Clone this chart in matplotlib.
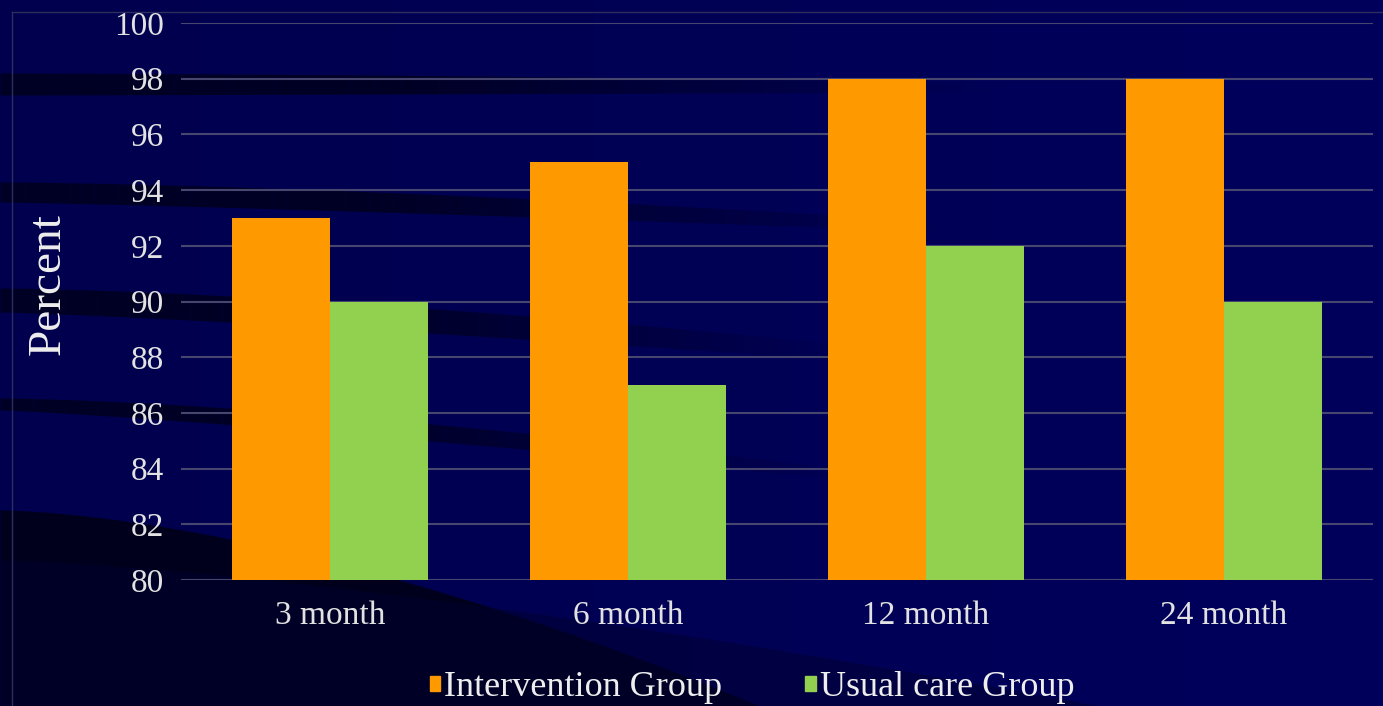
import numpy as np
import matplotlib.pyplot as plt
from matplotlib.colors import LinearSegmentedColormap
from matplotlib.patches import Patch

categories = ["3 month", "6 month", "12 month", "24 month"]
intervention = [93, 95, 98, 98]
usual_care = [90, 87, 92, 90]
series_names = ["Intervention Group", "Usual care Group"]
colors = ["#FF9900", "#92D050"]

W, H = 1383, 706
plt.rcParams['font.family'] = ['Liberation Serif', 'DejaVu Serif']

fig = plt.figure(figsize=(W / 100, H / 100), dpi=100)
fig.patch.set_facecolor("#000058")

# background decoration (pixel coordinates)
bg = fig.add_axes([0, 0, 1, 1], zorder=0)
bg.set_xlim(0, W)
bg.set_ylim(H, 0)
bg.axis("off")
grad = np.linspace(0, 1, 256).reshape(1, -1)
bg.imshow(grad, extent=[0, W, H, 0], aspect="auto",
          cmap=LinearSegmentedColormap.from_list("b", ["#00004E", "#00005C"]))


def swoosh(x_end, top0, top1, bot0, bot1, color="#000020", alpha=0.9):
    # band that fades out towards its right end
    n = 80
    xs = np.linspace(0, x_end, n + 1)
    for i in range(n):
        x = np.linspace(xs[i], xs[i + 1], 4)
        t = x / x_end
        top = top0 + (top1 - top0) * t ** 1.5
        bot = bot0 + (bot1 - bot0) * t ** 1.2
        bot = np.maximum(bot, top)
        tm = (xs[i] + xs[i + 1]) / 2 / x_end
        a = alpha * min(1.0, (1 - tm) / 0.6)
        bg.fill_between(x, top, bot, color=color, alpha=a, lw=0)


swoosh(1000, 73, 82, 95, 92)
swoosh(950, 182, 222, 202, 232)
swoosh(850, 288, 345, 312, 360)
swoosh(850, 398, 470, 410, 480)
# large dark region bottom-left
x = np.linspace(0, 760, 200)
edge = 510 + 196 * (x / 760) ** 1.6
bg.fill_between(x, edge, H, color="#000018", alpha=0.9, lw=0)
x2 = np.linspace(0, 1100, 200)
edge2 = 560 + 146 * (x2 / 1100) ** 1.4
bg.fill_between(x2, edge2, H, color="#000030", alpha=0.5, lw=0)
bg.plot([12, 12], [12, H], color="#2e2e5e", lw=1)
bg.plot([12, W], [12, 12], color="#2e2e5e", lw=1)

ax = fig.add_axes([181 / W, 1 - 580 / H, (1373 - 181) / W, (580 - 23) / H], zorder=1)
ax.set_facecolor("none")

x = np.arange(len(categories))
width = 0.33
ax.bar(x - width / 2, np.array(intervention) - 80, width, bottom=80, color=colors[0], zorder=3)
ax.bar(x + width / 2, np.array(usual_care) - 80, width, bottom=80, color=colors[1], zorder=3)

ax.set_xlim(-0.5, len(categories) - 0.5)
ax.set_ylim(80, 100)
ax.set_yticks(range(80, 101, 2))
ax.set_xticks(x)
ax.set_xticklabels(categories)
ax.grid(axis="y", color="#46466e", lw=1.5, zorder=1)
for s in ax.spines.values():
    s.set_visible(False)
ax.tick_params(axis="both", length=0, colors="#E2E2E2", labelsize=24)
ax.tick_params(axis="y", pad=12)
ax.tick_params(axis="x", pad=15)
ax.set_ylabel("Percent", color="#EEEEEE", fontsize=34)
ax.yaxis.set_label_coords(-0.093, 0.531)

handles = [Patch(color=c) for c in colors]
fig.legend(handles, series_names, loc="center", bbox_to_anchor=(752 / W, 1 - 688 / H),
           ncol=2, frameon=False, fontsize=26, labelcolor="#EEEEEE",
           handlelength=0.3, handleheight=0.3, handletextpad=0.1, columnspacing=2.3)

fig.savefig("out.png", dpi=100, facecolor=fig.get_facecolor())
